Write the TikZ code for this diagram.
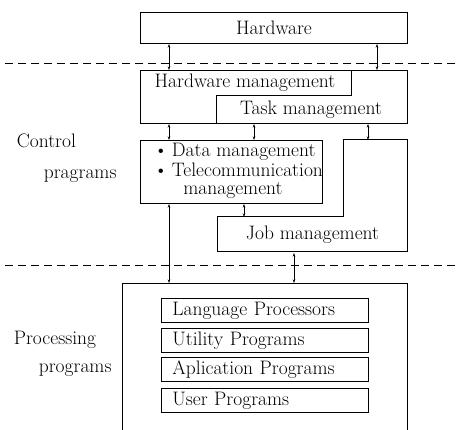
\documentclass[tikz,border=0pt]{standalone}
\usetikzlibrary{arrows.meta}
\newcommand{\boxfont}{\fontsize{19.5}{22}\selectfont}
\tikzset{
  box/.style={draw, anchor=north west, inner sep=0pt},
  txt/.style={font=\boxfont},
  link/.style={line width=0.7pt, {Stealth[length=3.5pt,width=2.5pt]}-{Stealth[length=3.5pt,width=2.5pt]}},
  sep/.style={line width=0.8pt, dash pattern=on 8pt off 5pt}
}
\begin{document}
\begin{tikzpicture}[x=1pt,y=-1pt,line width=1pt]
  \useasboundingbox (0,0) rectangle (459,430);
  % levels
  \draw[sep] (5,63) -- (459,63);
  \draw[sep] (5,265) -- (459,265);
  % hardware
  \node[box, txt, minimum width=267pt, minimum height=31pt] (hw) at (140,12) {Hardware};
  % control programs
  \node[box, minimum width=267pt, minimum height=53pt] (ctl) at (140,70) {};
  \draw (351,70) -- (351,96) -- (216,96) -- (216,123);
  \node[txt] (hwm) at (245,83) {Hardware management};
  \node[txt] (task) at (311,110) {Task management};
  \node[box, minimum width=182pt, minimum height=63pt] (data) at (140,140) {};
  \node[txt, anchor=base west, inner ysep=1pt] (data1) at (150,157) {\textbullet\kern4pt Data management};
  \node[txt, anchor=base west, inner ysep=1pt] (data2) at (150,177) {\textbullet\kern4pt Telecommunication};
  \node[txt, anchor=base, inner ysep=1pt] (data3) at (233,195) {management};
  \draw (343,140) -- (407,140) -- (407,252) -- (217,252) -- (217,217) -- (343,217) -- cycle;
  \node[txt, anchor=north west, inner sep=0pt, minimum width=190pt, minimum height=35pt] (job) at (217,217) {Job management};
  \coordinate (jtop) at (407,140);
  % processing programs
  \node[box, minimum width=285pt, minimum height=170pt] (proc) at (122,283) {};
  \tikzset{pbox/.style={box, txt, line width=0.8pt, text width=185pt, inner xsep=11pt, inner ysep=0pt, minimum height=24pt, align=left}}
  \node[pbox] (lang) at (161,298) {Language Processors};
  \node[pbox] (util) at (161,328) {Utility Programs};
  \node[pbox] (appl) at (161,357) {Aplication Programs};
  \node[pbox] (user) at (161,388) {User Programs};
  % side labels
  \node[txt, anchor=base west] (ctl1) at (13,148) {Control};
  \node[txt, anchor=base west] (ctl2) at (40,179) {pragrams};
  \node[txt, anchor=base west] (proc1) at (10,345) {Processing};
  \node[txt, anchor=base west] (proc2) at (35,373) {programs};
  % connectors
  \coordinate (xa) at (169,0);
  \coordinate (xb) at (377,0);
  \coordinate (xc) at (254,0);
  \coordinate (xd) at (368,0);
  \coordinate (xe) at (244,0);
  \coordinate (xg) at (294,0);
  \draw[link] (hw.south -| xa) -- (ctl.north -| xa);
  \draw[link] (hw.south -| xb) -- (ctl.north -| xb);
  \draw[link] (ctl.south -| xa) -- (data.north -| xa);
  \draw[link] (ctl.south -| xc) -- (data.north -| xc);
  \draw[link] (ctl.south -| xd) -- (jtop -| xd);
  \draw[link] (data.south -| xe) -- (job.north -| xe);
  \draw[link] (data.south -| xa) -- (proc.north -| xa);
  \draw[link] (job.south -| xg) -- (proc.north -| xg);
\end{tikzpicture}
\end{document}
